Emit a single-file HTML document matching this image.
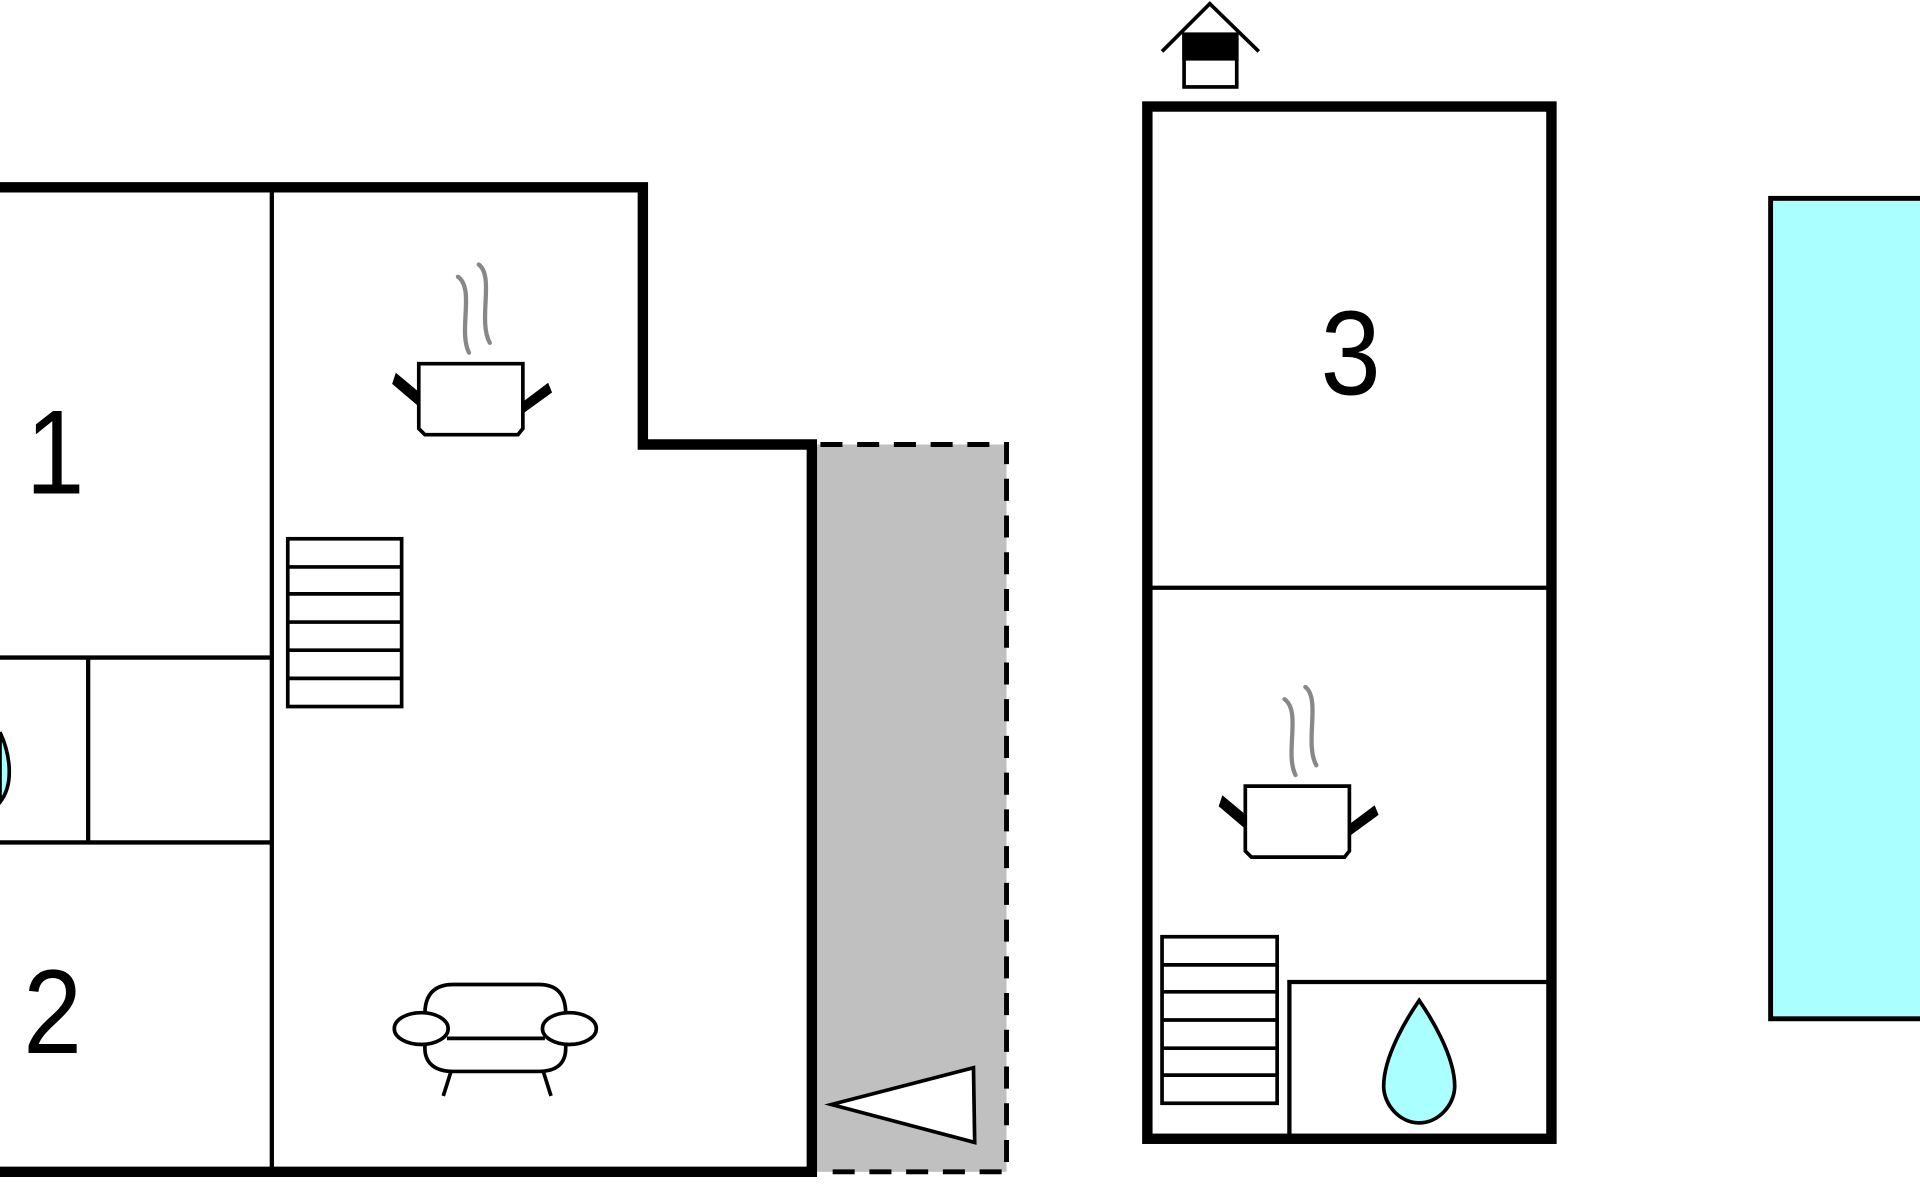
<!DOCTYPE html>
<html><head><meta charset="utf-8"><style>html,body{margin:0;padding:0;background:#fff}svg{display:block}</style></head><body>
<svg width="1920" height="1200" viewBox="0 0 1568 980" xmlns="http://www.w3.org/2000/svg">
<rect width="1568" height="980" fill="#fff"/>
<!-- gray terrace -->
<rect x="666" y="363" width="156" height="594" fill="#c0c0c0"/>
<path d="M670 363 H822 V957 H670" fill="none" stroke="#000" stroke-width="4" stroke-dasharray="18,12"/>
<polygon points="679,902 795,872 796,933" fill="#fff" stroke="#000" stroke-width="3"/>
<!-- left building -->
<path d="M0 153 H525 V363 H663 V957 H0" fill="none" stroke="#000" stroke-width="8.5"/>
<g stroke="#000" stroke-width="3.5" fill="none">
<line x1="222" y1="153" x2="222" y2="957"/>
<line x1="0" y1="537" x2="222" y2="537"/>
<line x1="0" y1="688" x2="222" y2="688"/>
<line x1="72" y1="537" x2="72" y2="688"/>
</g>
<path d="M0 598 C8 615 12 640 0 655 Z" fill="#aaffff" stroke="#000" stroke-width="3"/>
<text x="0" y="0" transform="translate(45,403) scale(0.88,1)" font-family="Liberation Sans, sans-serif" font-size="98" text-anchor="middle">1</text>
<text x="0" y="0" transform="translate(43,860) scale(0.88,1)" font-family="Liberation Sans, sans-serif" font-size="98" text-anchor="middle">2</text>
<!-- pot 1 -->
<g id="pot">
<path d="M374 226 C388 236 374 270 383 288 M391 216 C404 226 390 262 400 280" stroke="#888" stroke-width="3.5" fill="none" stroke-linecap="round"/>
<path d="M342 297 H427 V350 L423 355 H347 L342 350 Z" fill="#fff" stroke="#000" stroke-width="3"/>
<path d="M342 330 L322 313 L324 307 L342 322 M427 330 L447 315 L449 320 L427 336" fill="#000" stroke="#000" stroke-width="3"/>
</g>
<!-- stairs 1 -->
<g stroke="#000" stroke-width="3" fill="#fff">
<rect x="235" y="440" width="93" height="137"/>
<path d="M235 463 H328 M235 485 H328 M235 508 H328 M235 531 H328 M235 554 H328" fill="none"/>
</g>
<!-- sofa -->
<g stroke="#000" stroke-width="3" fill="#fff">
<path d="M347 828 C347 812 355 804 370 804 H440 C455 804 462 812 462 828 V856 C462 868 455 875 440 875 H370 C355 875 347 868 347 856 Z"/>
<line x1="365" y1="848" x2="445" y2="848"/>
<ellipse cx="344" cy="840" rx="22" ry="13"/>
<ellipse cx="465" cy="840" rx="22" ry="13"/>
<path d="M368 876 L362 895 M444 876 L450 895" fill="none"/>
</g>
<!-- right building -->
<rect x="937" y="87" width="330" height="843" fill="none" stroke="#000" stroke-width="8.5"/>
<line x1="940" y1="480" x2="1264" y2="480" stroke="#000" stroke-width="3.5"/>
<text x="0" y="0" transform="translate(1103,322) scale(0.9,1)" font-family="Liberation Sans, sans-serif" font-size="98" text-anchor="middle">3</text>
<use href="#pot" transform="translate(675,345)"/>
<g stroke="#000" stroke-width="3" fill="#fff">
<rect x="949" y="765" width="94" height="136"/>
<path d="M949 788 H1043 M949 810 H1043 M949 833 H1043 M949 856 H1043 M949 878 H1043" fill="none"/>
</g>
<path d="M1053 930 V802 H1264" fill="none" stroke="#000" stroke-width="3.5"/>
<path d="M1159 817 C1150 830 1130 862 1130 887 C1130 902 1143 917 1159 917 C1175 917 1188 902 1188 887 C1188 862 1168 830 1159 817 Z" fill="#aaffff" stroke="#000" stroke-width="3"/>
<!-- house icon -->
<g stroke="#000" stroke-width="3" fill="none">
<path d="M949 42 L988 3 L1028 42"/>
<rect x="967" y="28" width="43" height="43" fill="#fff"/>
<rect x="967" y="28" width="43" height="20" fill="#000"/>
</g>
<!-- pool -->
<rect x="1446" y="162" width="130" height="670" fill="#aaffff" stroke="#000" stroke-width="4"/>
</svg>
</body></html>
